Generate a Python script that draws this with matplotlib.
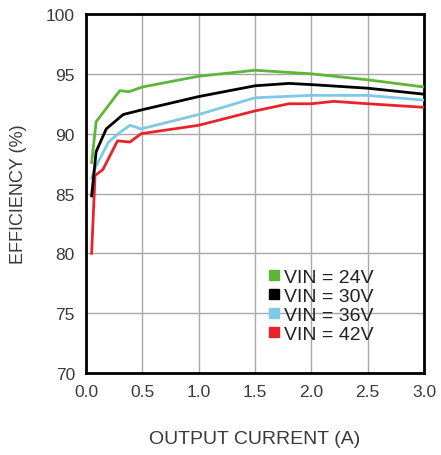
"""Efficiency vs output current for four input voltages."""

import matplotlib
matplotlib.use("Agg")
import matplotlib.pyplot as plt
from matplotlib.lines import Line2D

plt.rcParams["font.family"] = ["Liberation Sans", "DejaVu Sans"]

# --- data --------------------------------------------------------------
i_24 = [0.05, 0.09, 0.30, 0.38, 0.50, 1.0, 1.5, 2.0, 2.5, 3.0]
eff_24 = [87.6, 91.0, 93.6, 93.5, 93.9, 94.8, 95.3, 95.0, 94.5, 93.9]

i_30 = [0.05, 0.09, 0.18, 0.33, 0.50, 1.0, 1.5, 1.8, 2.0, 2.5, 3.0]
eff_30 = [84.8, 88.5, 90.4, 91.6, 92.0, 93.1, 94.0, 94.2, 94.1, 93.8, 93.3]

i_36 = [0.05, 0.09, 0.20, 0.30, 0.39, 0.49, 1.0, 1.5, 2.0, 2.5, 3.0]
eff_36 = [86.3, 87.3, 89.3, 90.1, 90.7, 90.4, 91.6, 93.0, 93.2, 93.2, 92.8]

i_42 = [0.05, 0.08, 0.15, 0.28, 0.39, 0.49, 1.0, 1.5, 1.8, 2.0, 2.2, 2.5, 3.0]
eff_42 = [80.0, 86.5, 87.0, 89.4, 89.3, 90.0, 90.7, 91.9, 92.5, 92.5, 92.7, 92.5, 92.2]

labels = ["VIN = 24V", "VIN = 30V", "VIN = 36V", "VIN = 42V"]
colors = ["#5db53a", "#000000", "#80c8e8", "#e8232b"]

x_ticks = [0.0, 0.5, 1.0, 1.5, 2.0, 2.5, 3.0]
y_ticks = [70, 75, 80, 85, 90, 95, 100]

# --- figure --------------------------------------------------------------
fig = plt.figure(figsize=(4.41, 4.56), dpi=100)
ax = fig.add_axes([86 / 441, 1 - 374 / 456, 338 / 441, 359 / 456])

series = [(i_24, eff_24), (i_30, eff_30), (i_36, eff_36), (i_42, eff_42)]
# draw lower curves first so green/black sit on top like the reference
for idx in [3, 2, 1, 0]:
    xs, ys = series[idx]
    ax.plot(xs, ys, color=colors[idx], lw=2.0, solid_joinstyle="round", zorder=3)

ax.set_xlim(0, 3.0)
ax.set_ylim(70, 100)
ax.set_xticks(x_ticks)
ax.set_xticklabels([f"{v:.1f}" for v in x_ticks])
ax.set_yticks(y_ticks)
ax.tick_params(length=0, labelsize=12.5, colors="#3a3a3a", pad=8)
ax.grid(True, color="#a8a8a8", lw=1.0)
ax.set_axisbelow(True)
for sp in ax.spines.values():
    sp.set_linewidth(2.0)
    sp.set_color("black")

ax.set_xlabel("OUTPUT CURRENT (A)", fontsize=14, color="#3a3a3a")
ax.xaxis.set_label_coords(0.5, -(440 - 374) / 359, transform=ax.transAxes)
ax.xaxis.label.set_va("center")
ax.set_ylabel("EFFICIENCY (%)", fontsize=13, color="#3a3a3a")
ax.yaxis.set_label_coords(-(86 - 19) / 338, 0.5, transform=ax.transAxes)
ax.yaxis.label.set_va("center")

handles = [Line2D([], [], ls="none", marker="s", ms=7, color=c) for c in colors]
leg = ax.legend(handles, labels, loc="upper left", bbox_to_anchor=(0.51, 0.318),
                frameon=False, fontsize=14, handlelength=0.6,
                handletextpad=0.2, labelspacing=0.07, borderpad=0.0)
for t in leg.get_texts():
    t.set_color("#222222")

fig.savefig("out.png", dpi=100)
